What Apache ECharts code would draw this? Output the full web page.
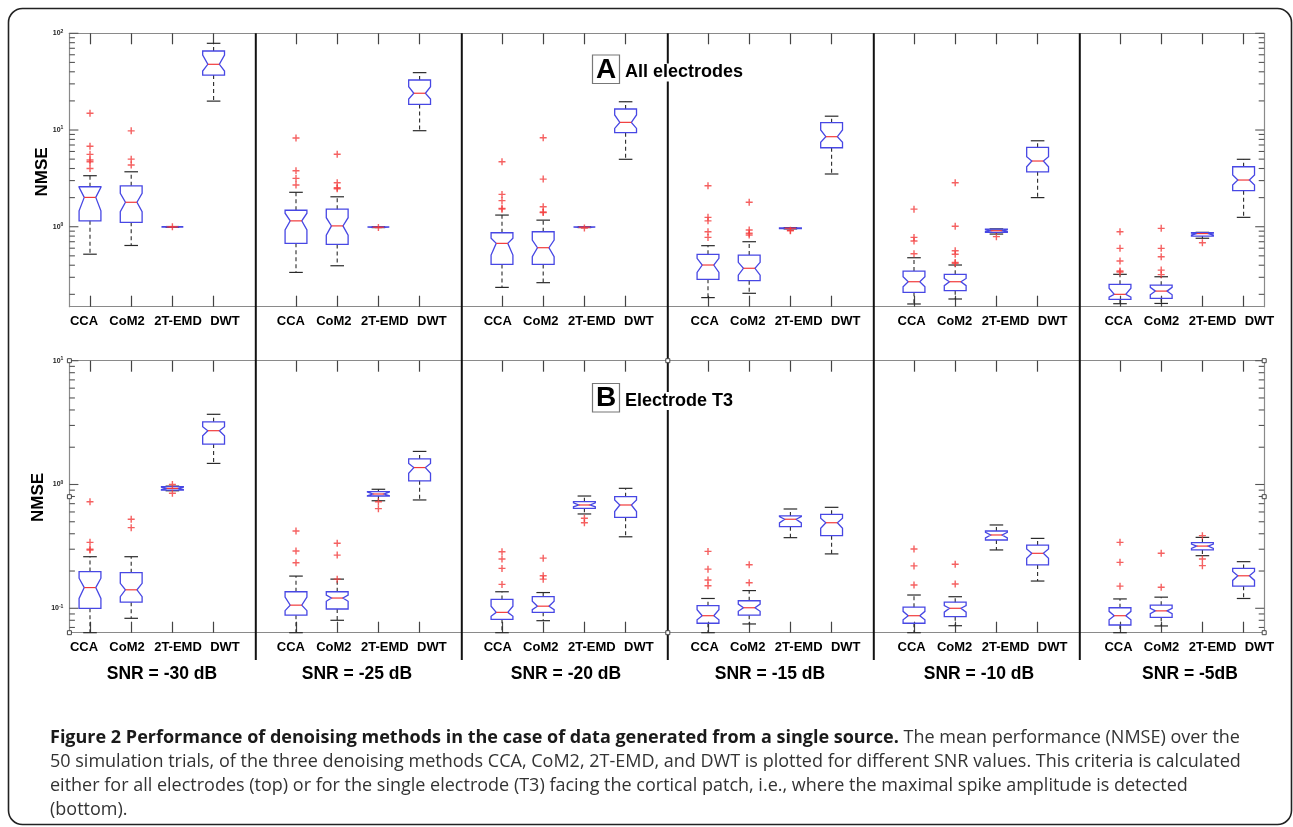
<!DOCTYPE html>
<html><head><meta charset="utf-8">
<script src="https://cdn.jsdelivr.net/npm/echarts@6/dist/echarts.min.js"></script>
<style>html,body{margin:0;padding:0;background:#fff}#c{width:1293px;height:827px}</style>
</head><body><div id="c"></div>
<script>
// ---------------- DATA ----------------
const categories = ['CCA', 'CoM2', '2T-EMD', 'DWT'];
const snrLabels = ['SNR = -30 dB', 'SNR = -25 dB', 'SNR = -20 dB', 'SNR = -15 dB', 'SNR = -10 dB', 'SNR = -5dB'];
const topDecades = [0.1, 1, 10, 100];      // (A) All electrodes y axis decades
const bottomDecades = [0.01, 0.1, 1, 10];  // (B) Electrode T3 y axis decades
const minorSteps = [2, 3, 4, 5, 6, 7, 8, 9];

// Box statistics per method: [lowWhisker, q1, median, q3, highWhisker, notchLow, notchHigh]
// (A) All electrodes
const allSnr30 = [[0.52, 1.15, 2.01, 2.59, 3.37, 1.46, 2.55], [0.64, 1.11, 1.79, 2.65, 3.70, 1.43, 2.21], [0.985, 0.99, 0.995, 1.0, 1.005, 0.99, 1.0], [19.9, 37.0, 47.8, 65.6, 78.8, 40.7, 59.6]];
const allSnr25 = [[0.337, 0.673, 1.15, 1.48, 2.27, 0.925, 1.38], [0.395, 0.657, 1.02, 1.52, 2.04, 0.82, 1.24], [0.98, 0.985, 0.99, 0.995, 1.0, 0.985, 0.995], [9.84, 18.4, 24.0, 32.9, 39.2, 20.9, 28.0]];
const allSnr20 = [[0.236, 0.408, 0.673, 0.867, 1.32, 0.509, 0.759], [0.264, 0.408, 0.607, 0.887, 1.17, 0.49, 0.728], [0.98, 0.985, 0.99, 0.995, 1.0, 0.985, 0.995], [4.98, 9.38, 12.0, 16.5, 19.6, 10.4, 14.3]];
const allSnr15 = [[0.185, 0.286, 0.402, 0.519, 0.637, 0.337, 0.471], [0.205, 0.277, 0.372, 0.509, 0.70, 0.316, 0.428], [0.95, 0.955, 0.965, 0.975, 0.98, 0.958, 0.972], [3.51, 6.56, 8.53, 11.9, 13.9, 7.46, 10.0]];
const allSnr10 = [[0.159, 0.210, 0.270, 0.348, 0.478, 0.240, 0.304], [0.179, 0.218, 0.270, 0.322, 0.402, 0.246, 0.292], [0.84, 0.875, 0.91, 0.946, 0.95, 0.89, 0.93], [2.0, 3.70, 4.78, 6.62, 7.74, 4.17, 5.30]];
const allSnr5 = [[0.16, 0.177, 0.20, 0.254, 0.322, 0.187, 0.231], [0.161, 0.182, 0.216, 0.249, 0.304, 0.198, 0.236], [0.76, 0.80, 0.85, 0.87, 0.875, 0.82, 0.86], [1.25, 2.36, 3.04, 4.17, 4.98, 2.70, 3.43]];
// outliers per method
const allOut30 = [[14.9, 6.8, 5.6, 4.9, 4.7, 4.0], [9.8, 5.0, 4.35], [1.0], []];
const allOut25 = [[8.27, 3.79, 3.16, 2.70], [5.61, 2.85, 2.53, 2.47], [0.98], []];
const allOut20 = [[4.70, 2.16, 1.86, 1.55, 1.52], [8.32, 3.11, 1.61, 1.42, 1.40], [0.97], []];
const allOut15 = [[2.65, 1.25, 1.15, 0.887, 0.776], [1.79, 0.925, 0.855, 0.82], [0.91, 0.92], []];
const allOut10 = [[1.52, 0.776, 0.711, 0.526], [2.85, 1.01, 0.565, 0.519, 0.428, 0.418], [0.79], []];
const allOut5 = [[0.887, 0.598, 0.442, 0.348, 0.34], [0.962, 0.598, 0.49, 0.356, 0.32], [0.684], []];

// (B) Electrode T3
const t3Snr30 = [[0.0635, 0.100, 0.147, 0.198, 0.261, 0.120, 0.175], [0.083, 0.112, 0.141, 0.194, 0.261, 0.124, 0.159], [0.89, 0.90, 0.93, 0.96, 0.97, 0.91, 0.95], [1.48, 2.12, 2.72, 3.21, 3.69, 2.47, 2.93]];
const t3Snr25 = [[0.0635, 0.088, 0.106, 0.136, 0.182, 0.0957, 0.123], [0.080, 0.0987, 0.121, 0.136, 0.172, 0.114, 0.128], [0.739, 0.807, 0.838, 0.875, 0.915, 0.81, 0.87], [0.75, 1.07, 1.37, 1.61, 1.85, 1.23, 1.48]];
const t3Snr20 = [[0.0635, 0.0814, 0.0927, 0.118, 0.136, 0.0862, 0.104], [0.0794, 0.0927, 0.104, 0.124, 0.134, 0.0975, 0.114], [0.578, 0.642, 0.683, 0.726, 0.807, 0.66, 0.71], [0.378, 0.543, 0.683, 0.797, 0.931, 0.605, 0.75]];
const t3Snr15 = [[0.0635, 0.0757, 0.0871, 0.105, 0.120, 0.0808, 0.0975], [0.0747, 0.088, 0.101, 0.115, 0.139, 0.0945, 0.108], [0.372, 0.456, 0.524, 0.557, 0.634, 0.49, 0.55], [0.275, 0.386, 0.491, 0.574, 0.654, 0.443, 0.533]];
const t3Snr10 = [[0.0635, 0.0757, 0.0871, 0.102, 0.128, 0.0808, 0.0945], [0.0723, 0.0855, 0.100, 0.112, 0.124, 0.093, 0.105], [0.296, 0.356, 0.391, 0.421, 0.471, 0.37, 0.41], [0.166, 0.224, 0.278, 0.324, 0.367, 0.254, 0.301]];
const t3Snr5 = [[0.0635, 0.0733, 0.0871, 0.101, 0.119, 0.0808, 0.0945], [0.072, 0.0845, 0.0953, 0.106, 0.123, 0.0906, 0.100], [0.266, 0.296, 0.318, 0.339, 0.374, 0.305, 0.33], [0.120, 0.151, 0.183, 0.210, 0.238, 0.168, 0.198]];
const t3Out30 = [[0.726, 0.341, 0.30, 0.295], [0.524, 0.448], [1.0, 0.85], []];
const t3Out25 = [[0.421, 0.290, 0.233], [0.335, 0.269, 0.172], [0.726, 0.638], []];
const t3Out20 = [[0.286, 0.250, 0.210, 0.156], [0.254, 0.183, 0.172], [0.533, 0.491], []];
const t3Out15 = [[0.288, 0.207, 0.169, 0.152], [0.225, 0.161], [], []];
const t3Out10 = [[0.301, 0.220, 0.154], [0.227, 0.157], [], []];
const t3Out5 = [[0.341, 0.235, 0.151], [0.278, 0.148], [0.386, 0.250, 0.221], []];

const captionBold = 'Figure 2 Performance of denoising methods in the case of data generated from a single source.';
const captionLines = [
  ' The mean performance (NMSE) over the',
  '50 simulation trials, of the three denoising methods CCA, CoM2, 2T-EMD, and DWT is plotted for different SNR values. This criteria is calculated',
  'either for all electrodes (top) or for the single electrode (T3) facing the cortical patch, i.e., where the maximal spike amplitude is detected',
  '(bottom).'
];

// ---------------- LAYOUT ----------------
const C0 = 90, BAND = 41.2, STEP = 206;
// category label centres (the original figure spreads the labels a bit wider than the ticks)
const LABEL0 = 84, LABEL_STEP = 206.9, LABEL_OFF = [0, 43, 94, 141];
const ROWS = [
  { top: 33.3, height: 273.4, min: 0.149, max: 100, decades: topDecades,
    boxes: [allSnr30, allSnr25, allSnr20, allSnr15, allSnr10, allSnr5],
    outs: [allOut30, allOut25, allOut20, allOut15, allOut10, allOut5] },
  { top: 360.7, height: 272, min: 0.0635, max: 10, decades: bottomDecades,
    boxes: [t3Snr30, t3Snr25, t3Snr20, t3Snr15, t3Snr10, t3Snr5],
    outs: [t3Out30, t3Out25, t3Out20, t3Out15, t3Out10, t3Out5] }
];
const BLUE = '#4747e4', RED = '#f23a3a', DARK = '#2a2a2a', AXIS = '#8a8a8a';
const FONT = '"Liberation Sans", Arial, sans-serif';

function boxRender(params, api) {
  const x = api.value(0);
  const lo = api.value(1), q1 = api.value(2), md = api.value(3), q3 = api.value(4), hi = api.value(5), nl = api.value(6), nh = api.value(7);
  const c = (dx, v) => api.coord([x + dx, v]);
  const HW = 0.265, NW = 0.14, CW = 0.165;
  const pts = [c(-HW, q3), c(HW, q3), c(HW, nh), c(NW, md), c(HW, nl), c(HW, q1), c(-HW, q1), c(-HW, nl), c(-NW, md), c(-HW, nh)];
  const pLo = c(0, lo), pQ1 = c(0, q1), pQ3 = c(0, q3), pHi = c(0, hi);
  const capLoL = c(-CW, lo), capLoR = c(CW, lo), capHiL = c(-CW, hi), capHiR = c(CW, hi);
  const mL = c(-NW, md), mR = c(NW, md);
  const ln = (a, b, style) => ({ type: 'line', shape: { x1: a[0], y1: a[1], x2: b[0], y2: b[1] }, style });
  const dash = { stroke: DARK, lineWidth: 1.1, lineDash: [4, 3] };
  const solid = { stroke: DARK, lineWidth: 1.2 };
  return { type: 'group', children: [
    ln(pQ3, pHi, dash), ln(pQ1, pLo, dash),
    ln(capHiL, capHiR, solid), ln(capLoL, capLoR, solid),
    { type: 'polygon', shape: { points: pts }, style: { fill: 'rgba(0,0,0,0)', stroke: BLUE, lineWidth: 1.3 } },
    ln(mL, mR, { stroke: RED, lineWidth: 1.2 })
  ] };
}

function tickValues(row) {
  const out = [];
  row.decades.forEach(d => {
    if (d >= row.min * 0.999 && d <= row.max * 1.001) out.push([d, 1]);
    minorSteps.forEach(m => { const v = d * m; if (v >= row.min && v <= row.max * 1.001) out.push([v, 0]); });
  });
  return out;
}

const grids = [], xAxes = [], yAxes = [], series = [];
ROWS.forEach((row, r) => {
  for (let k = 0; k < 6; k++) {
    const g = r * 6 + k;
    const xmin = k === 0 ? 0.5 : 0, xmax = k === 5 ? 4.5 : 5;
    const left = C0 + STEP * k - BAND * (1 - xmin);
    grids.push({ left, top: row.top, width: BAND * (xmax - xmin), height: row.height, containLabel: false, outerBoundsMode: 'none' });
    const xBase = {
      type: 'value', gridIndex: g, min: xmin, max: xmax, splitLine: { show: false },
      axisLine: { show: true, onZero: false, lineStyle: { color: AXIS, width: 1.2 } },
      axisTick: { show: true, inside: true, length: 11, customValues: [1, 2, 3, 4], lineStyle: { color: '#444', width: 1.2 } }
    };
    // per-label shift via rich padding so label centres match the original
    const rich = {};
    categories.forEach((name, i) => {
      const d = (LABEL0 + LABEL_STEP * k + LABEL_OFF[i]) - (C0 + STEP * k + BAND * i);
      rich['c' + i] = { fontFamily: 'Liberation Sans', fontWeight: 'bold', fontSize: 13, color: '#000',
        padding: [0, d < 0 ? -2 * d : 0, 0, d > 0 ? 2 * d : 0] };
    });
    xAxes.push(Object.assign({}, xBase, { position: 'bottom',
      axisLabel: { show: true, customValues: [1, 2, 3, 4], hideOverlap: false, margin: 8,
        formatter: v => { const i = Math.round(v) - 1; return categories[i] ? '{c' + i + '|' + categories[i] + '}' : ''; },
        fontFamily: 'Liberation Sans', fontWeight: 'bold', fontSize: 13, color: '#000', rich } }));
    xAxes.push(Object.assign({}, xBase, { position: 'top', axisLabel: { show: false } }));
    yAxes.push({ type: 'log', logBase: 10, gridIndex: g, min: row.min, max: row.max, position: k === 5 ? 'right' : 'left',
      axisLine: { show: k === 0 || k === 5, onZero: false, lineStyle: { color: AXIS, width: 1.2 } },
      axisTick: { show: false }, axisLabel: { show: false }, splitLine: { show: false }, minorTick: { show: false } });

    series.push({ type: 'custom', xAxisIndex: 2 * g, yAxisIndex: g, silent: true, z: 3,
      data: row.boxes[k].map((b, i) => [i + 1].concat(b)),
      encode: { x: 0, y: [1, 2, 3, 4, 5] }, renderItem: boxRender });
    const outs = [];
    row.outs[k].forEach((list, i) => list.forEach(v => outs.push([i + 1, v])));
    series.push({ type: 'scatter', xAxisIndex: 2 * g, yAxisIndex: g, silent: true, z: 4,
      symbol: 'path://M4,0H6V4H10V6H6V10H4V6H0V4H4Z', symbolSize: 7,
      itemStyle: { color: RED }, data: outs });

    if (k === 0 || k === 5) {
      const edge = k === 0 ? xmin : xmax, dir = k === 0 ? 1 : -1, withLabels = k === 0;
      series.push({ type: 'custom', xAxisIndex: 2 * g, yAxisIndex: g, silent: true, z: 2,
        data: tickValues(row).map(t => [edge, t[0], t[1]]), encode: { x: 0, y: 1 },
        renderItem: (p, api) => {
          const v = api.value(1);
          const pt = api.coord([api.value(0), v]);
          const major = api.value(2) === 1;
          const len = major ? 9 : 5.5;
          const children = [{ type: 'line', shape: { x1: pt[0], y1: pt[1], x2: pt[0] + dir * len, y2: pt[1] }, style: { stroke: '#555', lineWidth: 1.1 } }];
          if (withLabels && major) {
            const e = Math.round(Math.log10(v));
            children.push({ type: 'text', x: pt[0] - 6, y: pt[1], style: {
              text: '{b|10}{s|' + e + '}', align: 'right', verticalAlign: 'middle',
              rich: { b: { fontSize: 7, fontWeight: 'bold', fontFamily: 'Liberation Sans', fill: '#222' },
                      s: { fontSize: 5, fontWeight: 'bold', fontFamily: 'Liberation Sans', fill: '#222', verticalAlign: 'top', padding: [0, 0, 4, 0] } } } });
          }
          return { type: 'group', children };
        } });
    }
  }
});

// ---------------- GRAPHICS ----------------
const gfx = [];
gfx.push({ type: 'rect', shape: { x: 8.5, y: 8.5, width: 1283, height: 816, r: 14 }, style: { fill: 'none', stroke: '#222', lineWidth: 1.6 }, z: 0 });
for (let k = 1; k < 6; k++) {
  const x = C0 + STEP * k - BAND + 1;
  gfx.push({ type: 'line', shape: { x1: x, y1: ROWS[0].top, x2: x, y2: 660 }, style: { stroke: '#111', lineWidth: 2 }, z: 5 });
}
// small square markers on the lower panel frame
const sqX = [C0 - BAND / 2, C0 + STEP * 3 - BAND + 1, C0 + STEP * 5 + BAND * 3.5];
const r2 = ROWS[1];
[[sqX[0], r2.top], [sqX[0], r2.top + r2.height / 2], [sqX[0], r2.top + r2.height],
 [sqX[1], r2.top], [sqX[1], r2.top + r2.height],
 [sqX[2], r2.top], [sqX[2], r2.top + r2.height / 2], [sqX[2], r2.top + r2.height]].forEach(p => {
  gfx.push({ type: 'rect', shape: { x: p[0] - 2, y: p[1] - 2, width: 4, height: 4 }, style: { fill: '#fff', stroke: '#444', lineWidth: 1 }, z: 6 });
});
// NMSE labels
[[42.5, 172], [38.5, 497.5]].forEach(p => {
  gfx.push({ type: 'text', x: p[0], y: p[1], rotation: Math.PI / 2, z: 6,
    style: { text: 'NMSE', font: 'bold 17px ' + FONT, fill: '#000', align: 'center', verticalAlign: 'middle', textAlign: 'center', textVerticalAlign: 'middle' } });
});
// SNR labels
const snrCenters = [162, 357, 566, 770, 979, 1190];
snrLabels.forEach((t, k) => {
  gfx.push({ type: 'text', x: snrCenters[k], y: 674, z: 6,
    style: { text: t, font: 'bold 17.5px ' + FONT, fill: '#000', align: 'center', verticalAlign: 'middle', textAlign: 'center', textVerticalAlign: 'middle' } });
});
// Panel tags
[['A', 'All electrodes', 55], ['B', 'Electrode T3', 383.5]].forEach(t => {
  gfx.push({ type: 'rect', shape: { x: 592.5, y: t[2], width: 27, height: 28.5 }, style: { fill: '#fff', stroke: '#777', lineWidth: 1.2 }, z: 7 });
  gfx.push({ type: 'text', x: 606, y: t[2] + 15, z: 8,
    style: { text: t[0], font: 'bold 28px ' + FONT, fill: '#000', align: 'center', verticalAlign: 'middle', textAlign: 'center', textVerticalAlign: 'middle' } });
  gfx.push({ type: 'text', x: 625, y: t[2] + 17.5, z: 8,
    style: { text: t[1], font: 'bold 18px ' + FONT, fill: '#000', align: 'left', verticalAlign: 'middle', textAlign: 'left', textVerticalAlign: 'middle',
      backgroundColor: '#fff' } });
});
// Caption
const capFont = '"Open Sans", sans-serif';
gfx.push({ type: 'text', x: 50, y: 738, z: 6, style: {
  text: '{b|' + captionBold + '}{r|' + captionLines[0] + '}', align: 'left', verticalAlign: 'middle', textAlign: 'left', textVerticalAlign: 'middle',
  rich: { b: { fontFamily: 'Open Sans', fontWeight: 'bold', fontSize: 18, fill: '#1a1a1a' },
          r: { fontFamily: 'Open Sans', fontSize: 18, fill: '#333' } } } });
for (let i = 1; i < captionLines.length; i++) {
  gfx.push({ type: 'text', x: 50, y: 738 + 24 * i, z: 6, style: {
    text: captionLines[i], font: '18px ' + capFont, fill: '#333', align: 'left', verticalAlign: 'middle', textAlign: 'left', textVerticalAlign: 'middle' } });
}

const chart = echarts.init(document.getElementById('c'));
chart.setOption({
  animation: false,
  backgroundColor: '#fff',
  grid: grids, xAxis: xAxes, yAxis: yAxes, series,
  graphic: { elements: gfx }
});
</script></body></html>
